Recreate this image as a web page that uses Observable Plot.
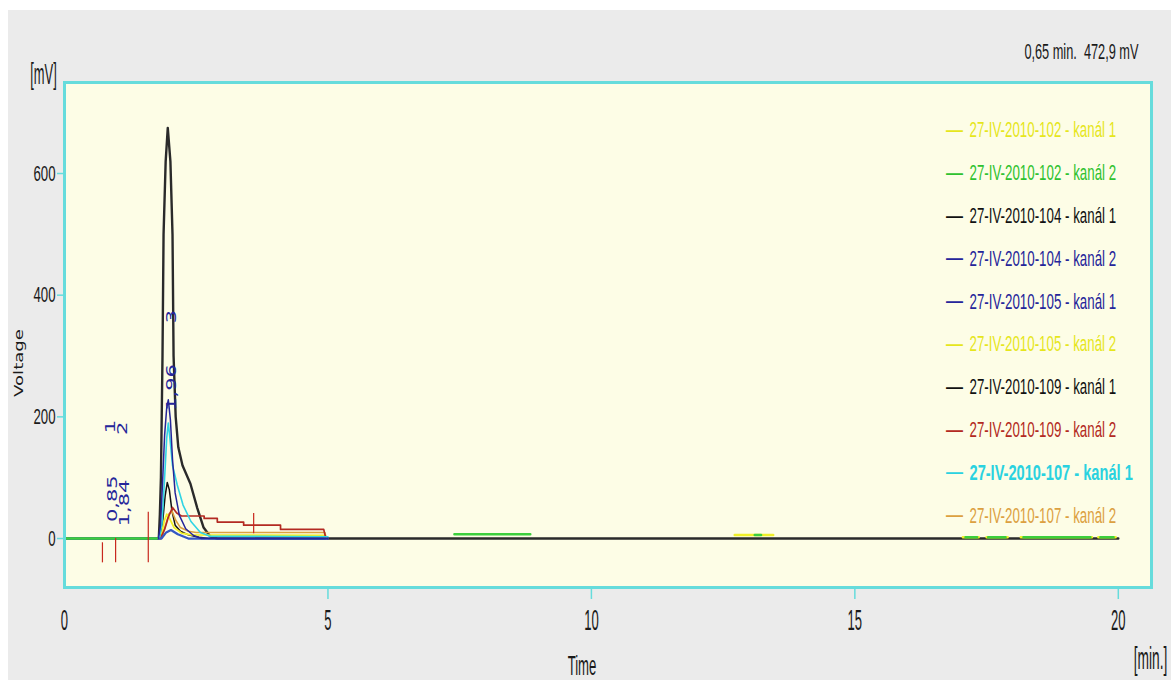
<!DOCTYPE html>
<html>
<head>
<meta charset="utf-8">
<script src="https://cdn.jsdelivr.net/npm/d3@7"></script>
<script src="https://cdn.jsdelivr.net/npm/@observablehq/plot@0.6"></script>
<style>
  html, body { margin: 0; padding: 0; background: #ffffff; }
  #panel { position: absolute; left: 8px; top: 10px; width: 1163px; height: 670px; background: #ebebeb; }
  #chart { position: absolute; left: 0; top: 0; }
</style>
</head>
<body>
<div id="panel"></div>
<div id="chart"></div>
<script>
// ---- chromatogram traces: time [min] and voltage [mV] ----
const t102k1 = [12.72, 13.45, 13.45, 17.05, 17.35, 17.35, 17.50, 17.90, 17.90, 18.15, 19.50, 19.50, 19.62, 19.95];
const v102k1 = [6, 6, null, 2, 2, null, 2, 2, null, 2, 2, null, 2, 2];

const t102k2 = [0, 1.75, 1.75, 7.40, 8.84, 8.84, 13.10, 13.22, 13.22, 17.10, 17.32, 17.32, 17.53, 17.86, 17.86, 18.20, 19.47, 19.47, 19.66, 19.91];
const v102k2 = [0, 0, null, 7, 7, null, 6, 6, null, 2, 2, null, 2, 2, null, 2, 2, null, 2, 2];

const t104k1 = [0, 1.79, 1.81, 1.83, 1.86, 1.88, 1.92, 1.96, 2.01, 2.05, 2.07, 2.11, 2.16, 2.24, 2.39, 2.52, 2.64, 2.77, 2.9, 20];
const v104k1 = [0, 0, 40, 100, 300, 500, 620, 675, 620, 500, 300, 200, 150, 120, 90, 50, 18, 3, 0, 0];

const t104k2 = [0, 1.78, 1.82, 1.86, 1.90, 1.94, 1.97, 2.01, 2.05, 2.10, 2.18, 2.30, 2.45, 2.60, 5.0];
const v104k2 = [0, 0, 20, 90, 170, 215, 228, 195, 130, 75, 38, 16, 5, 0, 0];

const t105k1 = [0, 1.84, 1.93, 2.02, 2.15, 2.35, 5.0];
const v105k1 = [0, 0, 10, 14, 7, 0, 0];

const t105k2 = [0, 1.83, 1.89, 1.94, 1.99, 2.08, 2.22, 2.40, 4.94, 4.97];
const v105k2 = [0, 0, 28, 40, 34, 18, 9, 6, 5, 0];

const t109k1 = [0, 1.80, 1.86, 1.91, 1.95, 1.99, 2.04, 2.10, 2.20, 2.35, 2.55, 2.75, 5.0];
const v109k1 = [0, 0, 25, 70, 92, 80, 45, 22, 12, 6, 2, 0, 0];

const t109k2 = [0, 1.82, 1.90, 1.97, 2.05, 2.13, 2.22, 2.65, 2.65, 2.90, 2.90, 3.40, 3.40, 4.10, 4.10, 4.92, 4.96];
const v109k2 = [0, 0, 15, 35, 51, 42, 37, 37, 33, 33, 27, 27, 22, 22, 15, 15, 0];

const t107k1 = [0, 1.80, 1.85, 1.90, 1.94, 1.97, 2.00, 2.05, 2.14, 2.25, 2.40, 2.58, 2.75, 5.0];
const v107k1 = [0, 0, 25, 100, 165, 190, 165, 120, 88, 55, 28, 10, 4, 3];

const t107k2 = [0, 1.84, 1.91, 1.98, 2.04, 2.11, 2.20, 2.35, 2.50, 4.94, 4.97];
const v107k2 = [0, 0, 20, 40, 45, 30, 18, 12, 10, 10, 0];

// ---- legend entries (in legend order) ----
const legendNames = [
  "27-IV-2010-102 - kanál 1", "27-IV-2010-102 - kanál 2",
  "27-IV-2010-104 - kanál 1", "27-IV-2010-104 - kanál 2",
  "27-IV-2010-105 - kanál 1", "27-IV-2010-105 - kanál 2",
  "27-IV-2010-109 - kanál 1", "27-IV-2010-109 - kanál 2",
  "27-IV-2010-107 - kanál 1", "27-IV-2010-107 - kanál 2"
];
const legendColors = ["#e6e61c", "#2fc22f", "#111111", "#25259a", "#25259a",
                      "#e6e61c", "#111111", "#b32a22", "#2ad2e0", "#dca040"];

// ---- peak markers: integration limits and retention-time labels ----
const markerTime = [0.72, 0.97, 1.59, 3.59];
const markerLow  = [-40, -40, -40, 8];
const markerHigh = [-7, 0, 43, 41];

const peakLabelTime = [0.91, 1.13, 2.03];
const peakLabelY    = [27, 20, 210];
const peakRt        = ["0,85", "1,84", "1,96"];
const peakIndexTime = [0.87, 1.10, 2.03];
const peakIndexY    = [173, 170, 354];
const peakIndex     = ["1", "2", "3"];

// ---- axes ----
const xTickLabels = [0, 5, 10, 15, 20];
const xTickMarks  = [5, 10, 15, 20];
const yTickLabels = [0, 200, 400, 600];

const cursorReadout = "0,65 min.\u00a0\u00a0472,9 mV";

// draw order: the bottom-most trace first
const traces = [
  {t: t104k1, v: v104k1, color: "#2a2a2a", w: 2.4},
  {t: t109k1, v: v109k1, color: "#111111", w: 1.5},
  {t: t107k2, v: v107k2, color: "#dca040", w: 1.6},
  {t: t105k2, v: v105k2, color: "#f0f028", w: 1.8},
  {t: t109k2, v: v109k2, color: "#b32a22", w: 1.7},
  {t: t107k1, v: v107k1, color: "#30d4e4", w: 1.6},
  {t: t105k1, v: v105k1, color: "#3558c4", w: 2.2},
  {t: t104k2, v: v104k2, color: "#25259a", w: 1.5},
  {t: t102k1, v: v102k1, color: "#f0f028", w: 2.5},
  {t: t102k2, v: v102k2, color: "#3ccf3c", w: 2.5}
];

const cyan = "#66dcdc";
const narrow = "Liberation Sans, Arial, sans-serif";
const tag = name => () => name;   // per-element label, used to find the text later

const marks = [
  Plot.frame({fill: "#fdfde6", stroke: null}),
  Plot.axisX(xTickMarks, {anchor: "bottom", tickSize: 12, stroke: cyan, strokeWidth: 1.5, tickFormat: () => "", label: null}),
  Plot.axisY(yTickLabels, {anchor: "left", tickSize: 7, stroke: cyan, strokeWidth: 1.5, tickFormat: () => "", label: null}),
  ...traces.map(s => Plot.line(s.t.map((t, i) => ({t, v: s.v[i]})),
      {x: "t", y: "v", stroke: s.color, strokeWidth: s.w})),
  Plot.ruleX(markerTime.map((t, i) => ({t, lo: markerLow[i], hi: markerHigh[i]})),
      {x: "t", y1: "lo", y2: "hi", stroke: "#c8281e", strokeWidth: 1.2}),
  Plot.text(peakRt.map((s, i) => ({s, t: peakLabelTime[i], v: peakLabelY[i]})),
      {x: "t", y: "v", text: "s", rotate: -90, textAnchor: "start", lineAnchor: "middle",
       fill: "#25259a", fontFamily: "DejaVu Sans", fontSize: 14, ariaLabel: tag("peak")}),
  Plot.text(peakIndex.map((s, i) => ({s, t: peakIndexTime[i], v: peakIndexY[i]})),
      {x: "t", y: "v", text: "s", rotate: -90, textAnchor: "start", lineAnchor: "middle",
       fill: "#25259a", fontFamily: "DejaVu Sans", fontSize: 14, ariaLabel: tag("peak")}),
  Plot.frame({stroke: cyan, strokeWidth: 3}),
  // tick labels
  Plot.text(xTickLabels, {x: d => d, text: d => String(d), frameAnchor: "bottom", dy: 33,
      lineAnchor: "middle", fill: "#1a1a1a", fontFamily: narrow, fontSize: 29, ariaLabel: tag("xtick")}),
  Plot.text(yTickLabels, {y: d => d, text: d => String(d), frameAnchor: "left", dx: -9,
      textAnchor: "end", lineAnchor: "middle", fill: "#1a1a1a", fontFamily: narrow, fontSize: 22, ariaLabel: tag("ytick")}),
  // unit and axis titles
  Plot.text(["[mV]"], {frameAnchor: "top-left", dx: -21, dy: -8, textAnchor: "middle", lineAnchor: "middle",
      fill: "#1a1a1a", fontFamily: narrow, fontSize: 30, ariaLabel: tag("unit")}),
  Plot.text(["[min.]"], {frameAnchor: "bottom-right", dx: -1, dy: 71, textAnchor: "middle", lineAnchor: "middle",
      fill: "#1a1a1a", fontFamily: narrow, fontSize: 32, ariaLabel: tag("unit")}),
  Plot.text(["Time"], {frameAnchor: "bottom", dx: -26, dy: 79, textAnchor: "middle", lineAnchor: "middle",
      fill: "#1a1a1a", fontFamily: narrow, fontSize: 28, ariaLabel: tag("time")}),
  Plot.text(["Voltage"], {frameAnchor: "left", dx: -46, dy: 28, rotate: -90, textAnchor: "middle", lineAnchor: "middle",
      fill: "#1a1a1a", fontFamily: "DejaVu Sans", fontSize: 12.5, ariaLabel: tag("voltage")}),
  Plot.text([cursorReadout], {frameAnchor: "top-right", dx: -13, dy: -31, textAnchor: "end",
      lineAnchor: "middle", fill: "#1a1a1a", fontFamily: narrow, fontSize: 22, ariaLabel: tag("readout")}),
  // legend inside the plot area
  ...legendNames.flatMap((name, i) => [
    Plot.text(["\u2014"], {frameAnchor: "top-left", dx: 890, dy: 48 + 42.8 * i, lineAnchor: "middle",
        textAnchor: "middle", fill: legendColors[i], fontFamily: narrow, fontSize: 17, fontWeight: "bold"}),
    Plot.text([name], {frameAnchor: "top-left", dx: 905, dy: 48 + 42.8 * i, lineAnchor: "middle",
        textAnchor: "start", fill: legendColors[i], fontFamily: narrow, fontSize: 21.5,
        fontWeight: i === 8 ? "bold" : "normal", ariaLabel: tag(i === 8 ? "legendBold" : "legend")})
  ])
];

const chart = Plot.plot({
  width: 1171,
  height: 680,
  marginLeft: 64,
  marginRight: 20,
  marginTop: 82,
  marginBottom: 93,
  style: {background: "transparent", overflow: "visible"},
  x: {domain: [0, 20.63]},
  y: {domain: [-80.5, 749.6]},
  marks
});

// condensed lettering: scale each text group along its own baseline
const textScale = {xtick: 0.45, ytick: 0.6, unit: 0.43, time: 0.47, readout: 0.58,
                   legend: 0.62, legendBold: 0.68, peak: 1.5, voltage: 1.45};
for (const [label, s] of Object.entries(textScale)) {
  chart.querySelectorAll(`text[aria-label="${label}"]`).forEach(el => {
    let tr = el.getAttribute("transform");
    if (!tr) {
      const x = el.getAttribute("x") || 0, y = el.getAttribute("y") || 0;
      el.removeAttribute("x"); el.removeAttribute("y");
      tr = `translate(${x},${y})`;
    }
    el.setAttribute("transform", `${tr} scale(${s},1)`);
  });
}

document.getElementById("chart").appendChild(chart);
</script>
</body>
</html>
